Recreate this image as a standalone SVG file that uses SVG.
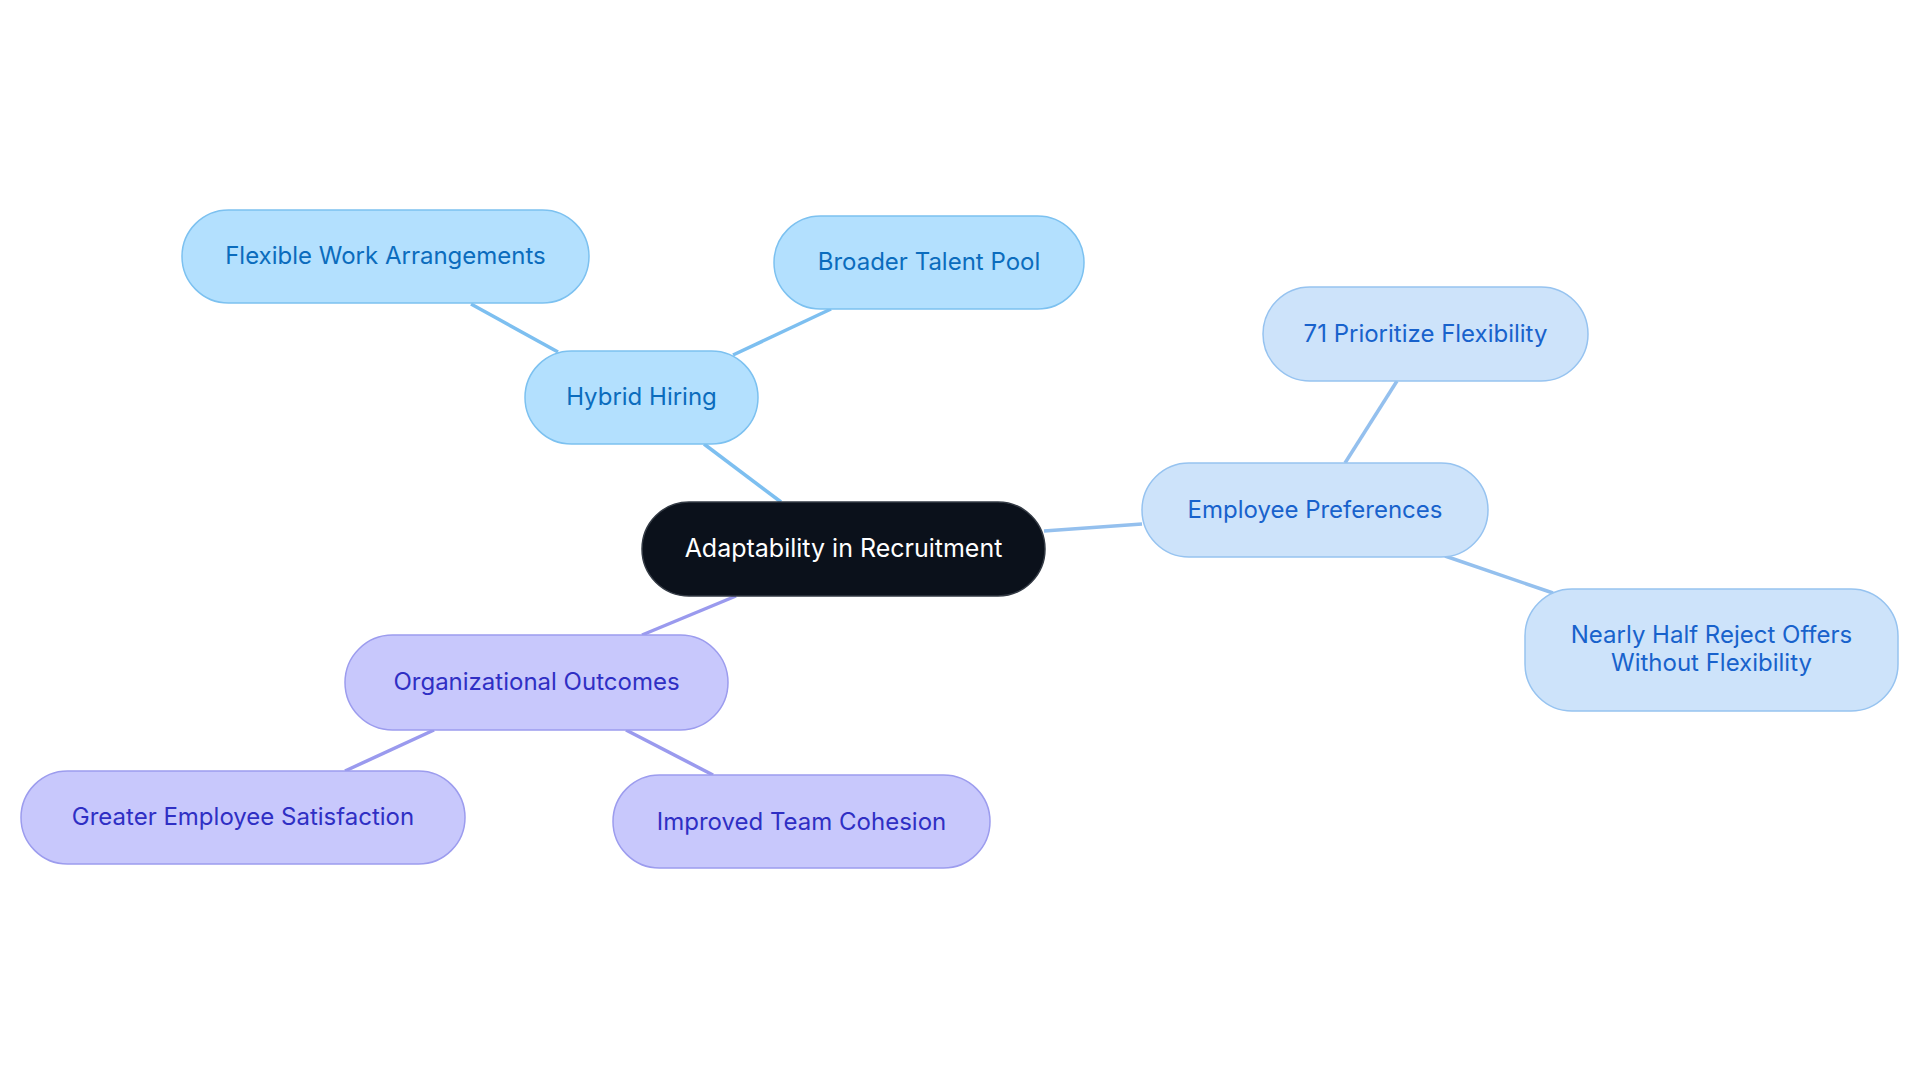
<svg xmlns="http://www.w3.org/2000/svg" width="1920" height="1083" viewBox="0 0 1920 1083">
<style>
text{font-family:Inter,"Noto Sans",sans-serif;font-size:24px;text-anchor:middle;dominant-baseline:central}
.edge{fill:none;stroke-width:3.5}
.e1{stroke:#7dbff0}.e2{stroke:#94c0ee}.e3{stroke:#9a9aee}
.n1 rect{fill:#b3e0fe;stroke:#7cc1f0;stroke-width:1.5}.n1 text{fill:#0b6cbd}
.n2 rect{fill:#cde3fa;stroke:#96c3f0;stroke-width:1.5}.n2 text{fill:#1862cc}
.n3 rect{fill:#c8c8fc;stroke:#9c9cee;stroke-width:1.5}.n3 text{fill:#2f2fc4}
</style>
<rect width="1920" height="1083" fill="#ffffff"/>
<g id="connectors">
<line class="edge e1" x1="781" y1="502" x2="704" y2="444"/>
<line class="edge e1" x1="558" y1="352" x2="471" y2="304"/>
<line class="edge e1" x1="733" y1="355" x2="831" y2="309"/>
<line class="edge e2" x1="1044" y1="531" x2="1142" y2="524"/>
<line class="edge e2" x1="1345" y1="463" x2="1397" y2="381"/>
<line class="edge e2" x1="1445" y1="556" x2="1553" y2="593"/>
<line class="edge e3" x1="736" y1="596" x2="642" y2="635"/>
<line class="edge e3" x1="434" y1="730" x2="345" y2="771"/>
<line class="edge e3" x1="626" y1="730" x2="713" y2="775"/>
</g>
<g id="root">
<rect x="642" y="502" width="403" height="94" rx="47" fill="#0b111b" stroke="#333a44" stroke-width="1.5"/>
<text x="843.5" y="548" fill="#ffffff" style="font-size:25px">Adaptability in Recruitment</text>
</g>
<g id="hybrid-hiring" class="n1">
<rect x="525" y="351" width="233" height="93" rx="46.5"/>
<text x="641.5" y="396.5">Hybrid Hiring</text>
</g>
<g id="flexible-work" class="n1">
<rect x="182" y="210" width="407" height="93" rx="46.5"/>
<text x="385.5" y="255.5">Flexible Work Arrangements</text>
</g>
<g id="broader-talent" class="n1">
<rect x="774" y="216" width="310" height="93" rx="46.5"/>
<text x="929" y="261.5">Broader Talent Pool</text>
</g>
<g id="employee-preferences" class="n2">
<rect x="1142" y="463" width="346" height="94" rx="47"/>
<text x="1315" y="509">Employee Preferences</text>
</g>
<g id="prioritize-flexibility" class="n2">
<rect x="1263" y="287" width="325" height="94" rx="47"/>
<text x="1425.5" y="333">71 Prioritize Flexibility</text>
</g>
<g id="nearly-half" class="n2">
<rect x="1525" y="589" width="373" height="122" rx="47"/>
<text x="1711.5" y="634">Nearly Half Reject Offers</text>
<text x="1711.5" y="662">Without Flexibility</text>
</g>
<g id="organizational-outcomes" class="n3">
<rect x="345" y="635" width="383" height="95" rx="47.5"/>
<text x="536.5" y="681.5">Organizational Outcomes</text>
</g>
<g id="greater-satisfaction" class="n3">
<rect x="21" y="771" width="444" height="93" rx="46.5"/>
<text x="243" y="816.5">Greater Employee Satisfaction</text>
</g>
<g id="team-cohesion" class="n3">
<rect x="613" y="775" width="377" height="93" rx="46.5"/>
<text x="801.5" y="821.5">Improved Team Cohesion</text>
</g>
</svg>
